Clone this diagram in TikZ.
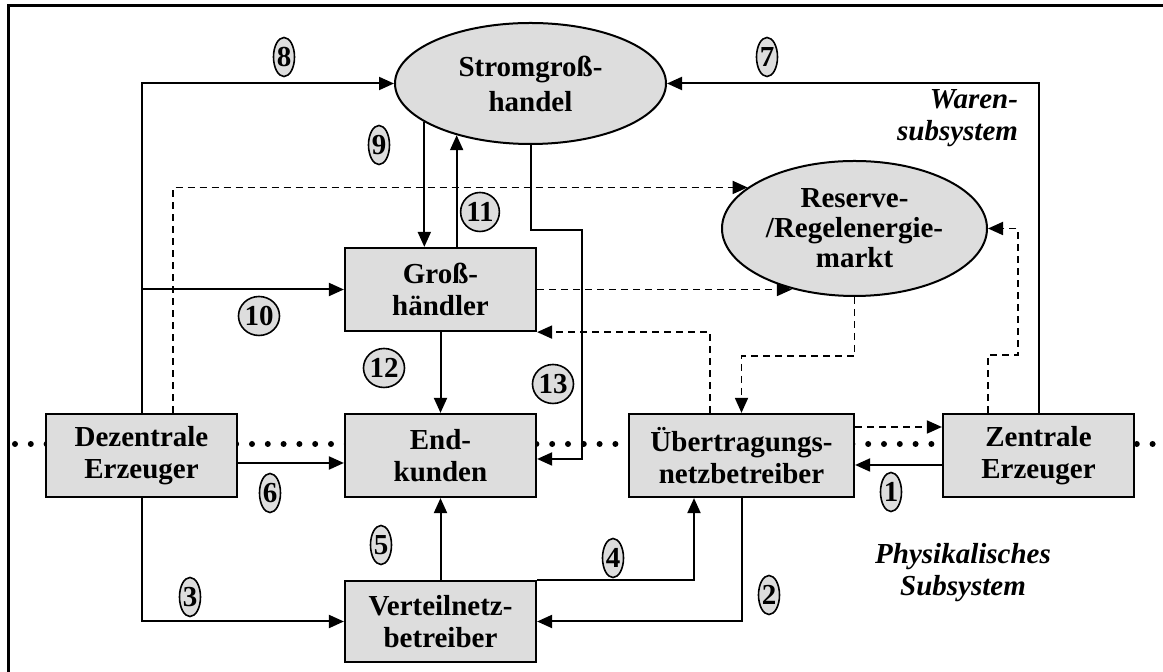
\documentclass[tikz,border=0pt]{standalone}
\usepackage{fontspec}
\setmainfont{Liberation Serif}
\usetikzlibrary{shapes.geometric,arrows.meta}
\definecolor{box_gray}{HTML}{DDDDDD}

\begin{document}
\begin{tikzpicture}[x=0.5pt,y=-0.5pt,
    actor/.style={draw, line width=1.1pt, fill=box_gray, minimum width=95.5pt, minimum height=41.5pt, inner sep=0pt, align=center, font=\bfseries\fontsize{14.5}{16}\selectfont},
    market/.style={ellipse, draw, line width=1pt, fill=box_gray, inner sep=0pt, align=center},
    num/.style={ellipse, draw, line width=0.8pt, fill=box_gray, inner sep=0pt, minimum width=10.5pt, minimum height=19.5pt, font=\bfseries\fontsize{14.5}{16}\selectfont},
    flow/.style={line width=1pt, -{Triangle[length=7.5pt,width=6.5pt]}},
    info/.style={flow, line width=0.9pt, dash pattern=on 3.5pt off 2.5pt},
    divider/.style={line width=3pt, line cap=round, dash pattern=on 0pt off 7.9pt},
    subsys/.style={font=\bfseries\itshape\fontsize{14.5}{16}\selectfont}]
    \useasboundingbox (0,0) rectangle (1163,672);
    \draw[line width=1.6pt] (8.5,672) -- (8.5,5.5) -- (1163,5.5);
    \draw[divider] (15,444) -- (1163,444);
    % markets
    \node[market, minimum width=135.5pt, minimum height=60.5pt, font=\bfseries\fontsize{14.5}{17.5}\selectfont] (strom) at (530.5,83.5) {Stromgroß-\\handel};
    \node[market, minimum width=132.5pt, minimum height=67.5pt, font=\bfseries\fontsize{14.5}{15}\selectfont] (res) at (854.5,228.5) {Reserve-\\/Regelenergie-\\markt};
    % actors
    \node[actor] (gross) at (440.5,289.5) {Groß-\\händler};
    \node[actor] (dez) at (141.5,455.5) {Dezentrale\\Erzeuger};
    \node[actor] (end) at (440.5,455.5) {End-\\kunden};
    \node[actor, minimum width=112.5pt] (ueb) at (741.5,455.5) {Übertragungs-\\netzbetreiber};
    \node[actor] (zen) at (1038.5,455.5) {Zentrale\\Erzeuger};
    \node[actor, minimum height=40.5pt] (vert) at (440.5,621.5) {Verteilnetz-\\betreiber};
    \node[subsys, align=right, anchor=east] (waren) at (1025,118) {Waren-\\subsystem};
    \node[subsys, align=center] (phys) at (963,573) {Physikalisches\\Subsystem};
    \coordinate (k13) at (582,230);
    \coordinate (k6) at (1018,355);
    % physical flows
    \draw[flow] ([yshift=-4.75pt]zen.west) -- ([yshift=-4.75pt]ueb.east);
    \draw[flow] (ueb.south) |- (vert.east);
    \draw[flow] (dez.south) |- (vert.west);
    \draw[flow] (vert.north east) -| ([xshift=-23.75pt]ueb.south);
    \draw[flow] (vert.north) -- (end.south);
    \draw[flow] ([yshift=-3.75pt]dez.east) -- ([yshift=-3.75pt]end.west);
    % trade flows
    \draw[flow] (zen.north) |- (strom.east);
    \draw[flow] (dez.north) |- (strom.west);
    \draw[flow] (strom.200) -- (strom.200 |- gross.north);
    \draw[flow] (dez.north |- gross.west) -- (gross.west);
    \draw[flow] (gross.north -| strom.215) -- (strom.215);
    \draw[flow] (gross.south) -- (end.north);
    \draw[flow] (strom.south) |- (k13) |- ([yshift=-1.75pt]end.east);
    % reserve market
    \draw[info] ([xshift=15.75pt]dez.north) |- (res.159);
    \draw[info] (gross.east) -- (gross.east -| res.224);
    \draw[info] ([xshift=-15.75pt]ueb.north) |- (gross.south east);
    \draw[info] (res.south) -- ++(0,59) -| (ueb.north);
    \draw[info] ([yshift=14.25pt]ueb.east) -- ([yshift=14.25pt]zen.west);
    \draw[info] ([xshift=-25.25pt]zen.north) |- (k6) |- (res.east);
    % numbers
    \node[num] (n1) at (891,492) {1};
    \node[num] (n2) at (769,595) {2};
    \node[num] (n3) at (190,597) {3};
    \node[num] (n4) at (613,558) {4};
    \node[num] (n5) at (381,545) {5};
    \node[num] (n6) at (270,493) {6};
    \node[num] (n7) at (767,57) {7};
    \node[num] (n8) at (284,57) {8};
    \node[num] (n9) at (379,145) {9};
    \node[num] (n10) at (259,316) {10};
    \node[num] (n11) at (480,212) {11};
    \node[num] (n12) at (384,368) {12};
    \node[num] (n13) at (553,384) {13};
\end{tikzpicture}
\end{document}
